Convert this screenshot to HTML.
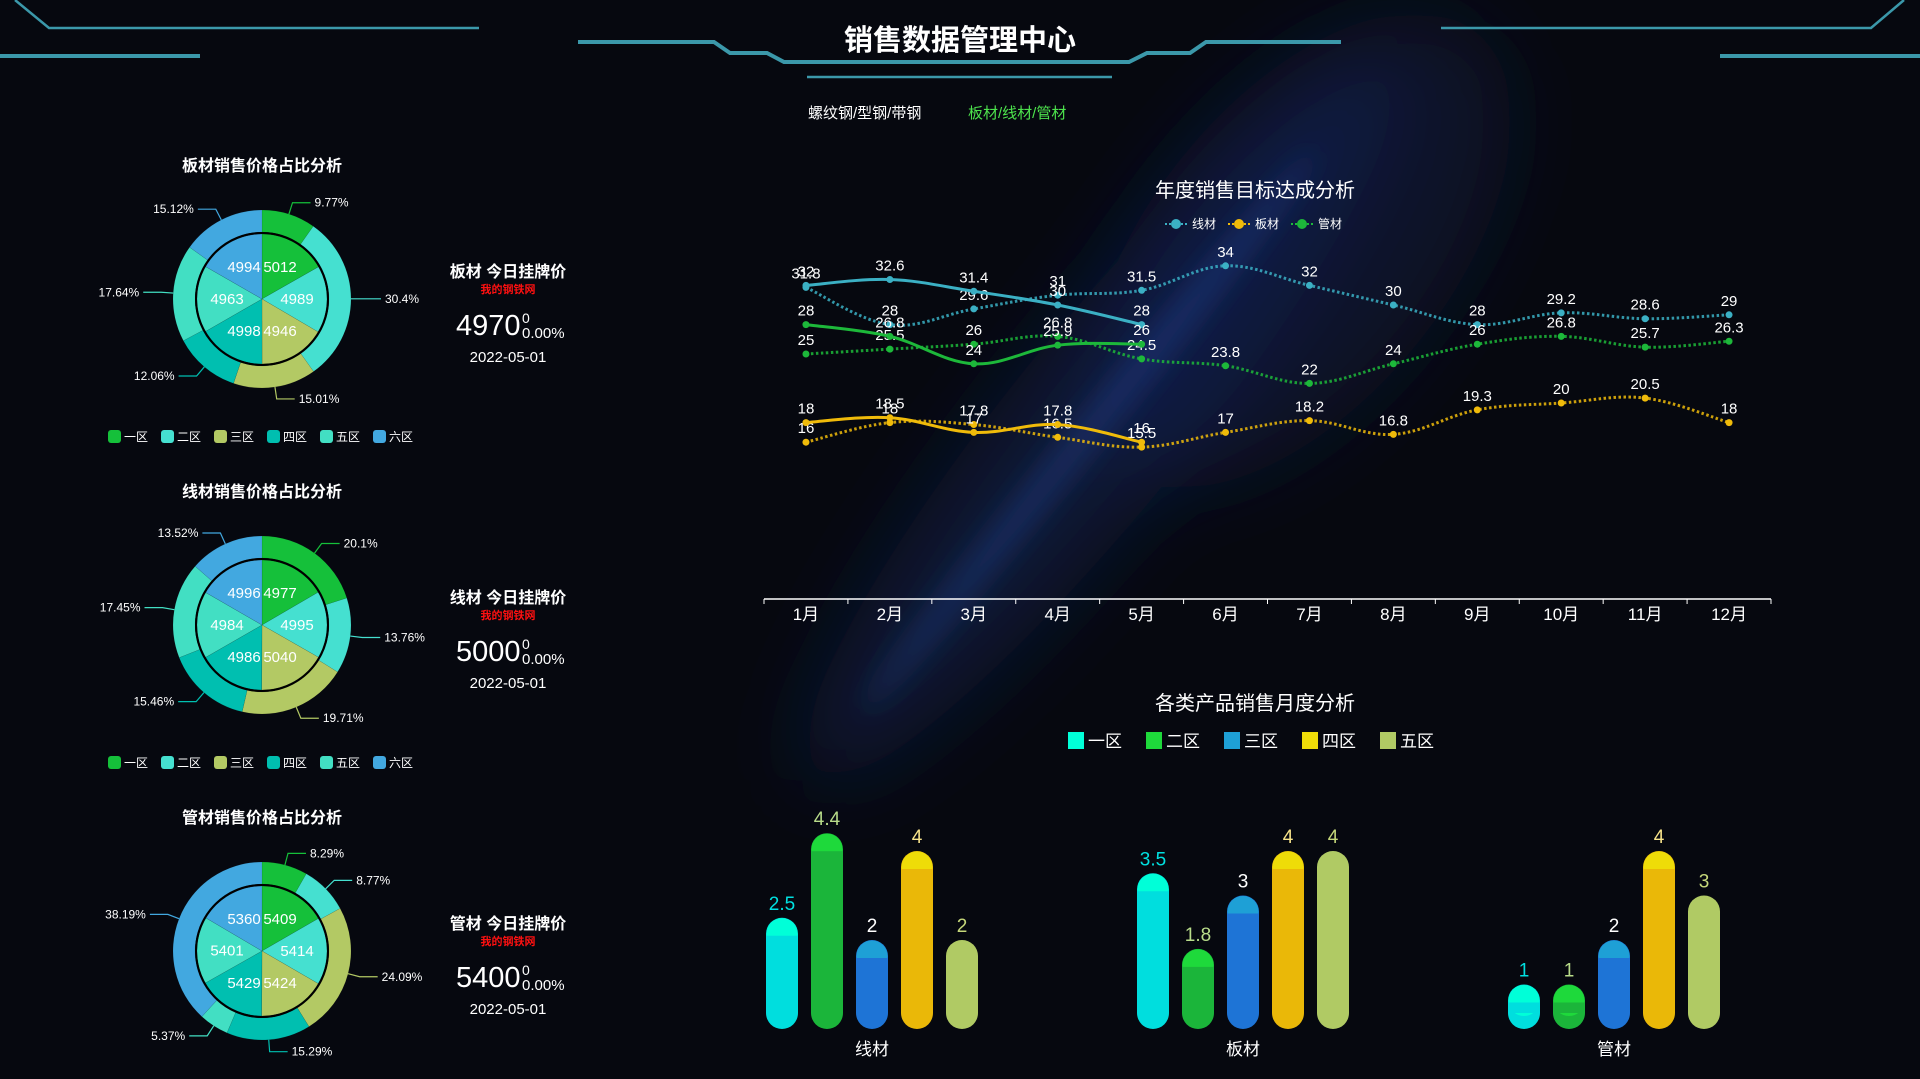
<!DOCTYPE html>
<html><head><meta charset="utf-8">
<style>
html,body{margin:0;padding:0;}
body{width:1920px;height:1079px;overflow:hidden;position:relative;font-family:"Liberation Sans","Noto Sans CJK SC",sans-serif;color:#fff;background:#06080f;}
svg{position:absolute;left:0;top:0;}
.t{position:absolute;white-space:nowrap;}
</style></head>
<body>
<svg width="1920" height="1079">
<defs>
<filter id="bl" x="-50%" y="-50%" width="200%" height="200%"><feGaussianBlur stdDeviation="40"/></filter>
<filter id="bl2" x="-50%" y="-50%" width="200%" height="200%"><feGaussianBlur stdDeviation="14"/></filter>
</defs>
<g filter="url(#bl)">
<ellipse cx="1100" cy="420" rx="90" ry="460" fill="rgba(30,50,120,0.35)" transform="rotate(39 1100 420)"/>
<ellipse cx="1300" cy="250" rx="150" ry="280" fill="rgba(25,40,100,0.3)" transform="rotate(39 1300 250)"/>
</g>
<g filter="url(#bl2)">
<ellipse cx="1090" cy="430" rx="16" ry="360" fill="rgba(45,80,170,0.35)" transform="rotate(39 1090 430)"/>
</g>
</svg>
<svg width="1920" height="1079">
<g stroke="#3b98aa" fill="none">
<polyline points="15,0 49,28 479,28" stroke-width="2.5"/>
<line x1="0" y1="56" x2="200" y2="56" stroke-width="4"/>
<polyline points="578,42 714,42 730,53 767,53 784,62 1129,62 1147,53 1190,53 1206,42 1341,42" stroke-width="4"/>
<line x1="807" y1="77" x2="1112" y2="77" stroke-width="2.5"/>
<polyline points="1441,28 1871,28 1904,0" stroke-width="2.5"/>
<line x1="1720" y1="56" x2="1920" y2="56" stroke-width="4"/>
</g>
</svg>
<div class="t" style="left:760px;top:17px;width:400px;text-align:center;font-size:29px;font-weight:bold;">销售数据管理中心</div>
<div class="t" style="left:808px;top:102px;font-size:15px;color:#fff;">螺纹钢/型钢/带钢</div>
<div class="t" style="left:968px;top:102px;font-size:15px;color:#4de34d;">板材/线材/管材</div>

<svg id="pies" width="1920" height="1079"></svg>
<svg id="line" width="1920" height="1079"></svg>
<svg id="bar" width="1920" height="1079"></svg>

<script>
const NS='http://www.w3.org/2000/svg';
function mk(p,tag,a){const e=document.createElementNS(NS,tag);for(const k in a)e.setAttribute(k,a[k]);p.appendChild(e);return e;}
function tx(p,x,y,s,a){const e=mk(p,'text',Object.assign({x:x,y:y,fill:'#fff','font-family':'"Liberation Sans","Noto Sans CJK SC",sans-serif'},a));e.textContent=s;return e;}

/* ---------- PIE DATA ---------- */
const zones=['一区','二区','三区','四区','五区','六区'];
const zoneColors=['#15c03a','#45e0d0','#b3c964','#00bfb0','#42dfc3','#42a8e0'];
const pieTitles=['板材销售价格占比分析','线材销售价格占比分析','管材销售价格占比分析'];
const products=['板材','线材','管材'];
const outer1=[9.77,30.4,15.01,12.06,17.64,15.12];
const outer2=[20.1,13.76,19.71,15.46,17.45,13.52];
const outer3=[8.29,8.77,24.09,15.29,5.37,38.19];
const inner1=[5012,4989,4946,4998,4963,4994];
const inner2=[4977,4995,5040,4986,4984,4996];
const inner3=[5409,5414,5424,5429,5401,5360];
const prices=['4970','5000','5400'];
const outers=[outer1,outer2,outer3], inners=[inner1,inner2,inner3];

const pies=document.getElementById('pies');
function arc(cx,cy,r0,r1,a0,a1){
 const p=(r,a)=>[cx+r*Math.sin(a),cy-r*Math.cos(a)];
 const lg=(a1-a0)>Math.PI?1:0;
 const [x1,y1]=p(r1,a0),[x2,y2]=p(r1,a1);
 if(r0<=0)return `M${cx},${cy}L${x1},${y1}A${r1},${r1} 0 ${lg} 1 ${x2},${y2}Z`;
 const [x3,y3]=p(r0,a1),[x4,y4]=p(r0,a0);
 return `M${x1},${y1}A${r1},${r1} 0 ${lg} 1 ${x2},${y2}L${x3},${y3}A${r0},${r0} 0 ${lg} 0 ${x4},${y4}Z`;
}
for(let k=0;k<3;k++){
 const cx=262, cy=299+k*326;
 const g=mk(pies,'g',{});
 
 
 tx(g,cx,cy-128,pieTitles[k],{'font-size':16,'font-weight':'bold','text-anchor':'middle'});
 const o=outers[k];const tot=o.reduce((a,b)=>a+b,0);
 let a=0;
 o.forEach((v,i)=>{
  const a1=a+v/tot*2*Math.PI;
  const s=mk(g,'path',{d:arc(cx,cy,67,89,a,a1),fill:zoneColors[i],stroke:'rgba(0,0,0,0.15)','stroke-width':0.5});
  
  
  const m=(a+a1)/2, sx=Math.sin(m), cy2=-Math.cos(m);
  const x0=cx+89*sx,y0=cy+89*cy2,x1=cx+101*sx,y1=cy+101*cy2;
  const right=sx>=0, x2=x1+(right?18:-18);
  mk(g,'polyline',{points:`${x0},${y0} ${x1},${y1} ${x2},${y1}`,fill:'none',stroke:zoneColors[i],'stroke-width':1.2});
  const lbl=tx(g,x2+(right?4:-4),y1+4,v+'%',{'font-size':12,'text-anchor':right?'start':'end'});
  
  a=a1;
 });
 const inn=inners[k];const it=inn.reduce((a,b)=>a+b,0);
 a=0;
 inn.forEach((v,i)=>{
  const a1=a+v/it*2*Math.PI;
  const s=mk(g,'path',{d:arc(cx,cy,0,65,a,a1),fill:zoneColors[i],stroke:'rgba(0,0,0,0.2)','stroke-width':0.5});
  
  
  const m=(a+a1)/2;
  const ly=cy-37*Math.cos(m);
  tx(g,cx+(Math.sin(m)>0?1:-1)*(Math.abs(Math.sin(m))>0.9?35:18),ly+5,String(v),{'font-size':15,'text-anchor':'middle'});
  a=a1;
 });
 mk(g,'circle',{cx:cx,cy:cy,r:66,fill:'none',stroke:'#000','stroke-width':2});
 if(k<2){
  const lg=mk(g,'g',{});
  
  
  zones.forEach((z,i)=>{
   const lx=108+i*53, ly=cy+137;
   const r=mk(lg,'rect',{x:lx,y:ly-6,width:13,height:13,rx:3,fill:zoneColors[i]});
   
   
   tx(lg,lx+16,ly+5,z,{'font-size':12});
  });
 }
 const px=508, py=cy;
 tx(g,px,py-22,products[k]+' 今日挂牌价',{'font-size':16,'font-weight':'bold','text-anchor':'middle'});
 tx(g,px,py-6,'我的钢铁网',{'font-size':11,'font-weight':'bold','text-anchor':'middle',fill:'#ff1010'});
 const pt=tx(g,456,py+36,prices[k],{'font-size':29});
 
 tx(g,522,py+24,'0',{'font-size':14});
 tx(g,522,py+39,'0.00%',{'font-size':15});
 tx(g,px,py+63,'2022-05-01',{'font-size':15,'text-anchor':'middle'});
}

/* ---------- LINE DATA ---------- */
const months=['1月','2月','3月','4月','5月','6月','7月','8月','9月','10月','11月','12月'];
const wireTarget=[31.8,28,29.6,31,31.5,34,32,30,28,29.2,28.6,29];
const wireActual=[32,32.6,31.4,30,28];
const plateTarget=[16,18,17.8,16.5,15.5,17,18.2,16.8,19.3,20,20.5,18];
const plateActual=[18,18.5,17,17.8,16];
const pipeTarget=[25,25.5,26,26.8,24.5,23.8,22,24,26,26.8,25.7,26.3];
const pipeActual=[28,26.8,24,25.9,26];
const lineY=v=>599-v*9.8;
const lineX=i=>764+(1771-764)/12*(i+0.5);
const line=document.getElementById('line');
tx(line,1255,197,'年度销售目标达成分析',{'font-size':20,'text-anchor':'middle'});
const series=[['线材','#3bb0c4',wireTarget,wireActual],['板材','#f0bb0a',plateTarget,plateActual],['管材','#1db83a',pipeTarget,pipeActual]];
series.forEach((s,i)=>{
 const lx=1165+i*63;
 const lg=mk(line,'g',{});
 
 
 mk(lg,'line',{x1:lx,y1:224,x2:lx+22,y2:224,stroke:s[1],'stroke-width':2,'stroke-dasharray':'2 2'});
 mk(lg,'circle',{cx:lx+11,cy:224,r:5,fill:s[1]});
 tx(lg,lx+27,228,s[0],{'font-size':12});
});
function smooth(pts){
 let d=`M${pts[0][0]},${pts[0][1]}`;
 for(let i=0;i<pts.length-1;i++){
  const p0=pts[i-1]||pts[i],p1=pts[i],p2=pts[i+1],p3=pts[i+2]||p2;
  const t=0.18;
  d+=`C${p1[0]+(p2[0]-p0[0])*t},${p1[1]+(p2[1]-p0[1])*t} ${p2[0]-(p3[0]-p1[0])*t},${p2[1]-(p3[1]-p1[1])*t} ${p2[0]},${p2[1]}`;
 }
 return d;
}
series.forEach(s=>{
 [[s[2],true],[s[3],false]].forEach(([vals,dot])=>{
  const pts=vals.map((v,i)=>[lineX(i),lineY(v)]);
  const p=mk(line,'path',{d:smooth(pts),fill:'none',stroke:s[1],'stroke-width':3,'stroke-dasharray':dot?'2.5 2.5':'none',opacity:dot?0.85:1});
  
  
  vals.forEach((v,i)=>{
   const c=mk(line,'circle',{cx:lineX(i),cy:lineY(v),r:3.5,fill:s[1]});
   
   
   tx(line,lineX(i),lineY(v)-9,String(v),{'font-size':15,'text-anchor':'middle'});
  });
 });
});
mk(line,'line',{x1:764,y1:599,x2:1771,y2:599,stroke:'#fff','stroke-width':1.5});
months.forEach((m,i)=>{
 const bx=764+(1771-764)/12*i;
 mk(line,'line',{x1:bx,y1:599,x2:bx,y2:604,stroke:'#fff','stroke-width':1});
 tx(line,lineX(i),620,m,{'font-size':17,'text-anchor':'middle'});
});
mk(line,'line',{x1:1771,y1:599,x2:1771,y2:604,stroke:'#fff','stroke-width':1});

/* ---------- BAR DATA ---------- */
const barCats=['线材','板材','管材'];
const barZones=['一区','二区','三区','四区','五区'];
const zone1=[2.5,3.5,1];
const zone2=[4.4,1.8,1];
const zone3=[2,3,2];
const zone4=[4,4,4];
const zone5=[2,4,3];
const barSeries=[zone1,zone2,zone3,zone4,zone5];
const barColors=['#00dede','#1bb53a','#1e74d6','#eab808','#b0ca64'];
const capColors=['#00ffd8','#1ed93b','#1ea0d6','#eedc08','#b0ca64'];
const lblColors=['#00e0e0','#b8dc8a','#ffffff','#f7e38a','#c6d87a'];
const legColors=['#00ffd8','#1ed93b','#1ea0d6','#eedc08','#b0ca64'];
const barY=v=>1029-v*44.5;
const barX=(c,s)=>872+c*371+(s-2)*45;
const bar=document.getElementById('bar');
tx(bar,1255,710,'各类产品销售月度分析',{'font-size':20,'text-anchor':'middle'});
barZones.forEach((z,i)=>{
 const lx=1068+i*78;
 const lg=mk(bar,'g',{});
 
 
 mk(lg,'rect',{x:lx,y:732,width:16,height:17,fill:legColors[i]});
 tx(lg,lx+20,747,z,{'font-size':17});
});
barSeries.forEach((vals,s)=>{
 vals.forEach((v,c)=>{
  const x=barX(c,s), w=32, top=barY(v);
  const r=mk(bar,'rect',{x:x-w/2,y:top,width:w,height:1029-top,rx:16,ry:16,fill:barColors[s]});
  
  
  mk(bar,'circle',{cx:x,cy:top+16,r:15.5,fill:capColors[s]});
  mk(bar,'rect',{x:x-w/2,y:top+18,width:w,height:Math.max(0,1029-top-34),fill:barColors[s]});
  tx(bar,x,top-8,String(v),{'font-size':19,'text-anchor':'middle',fill:lblColors[s]});
 });
});
barCats.forEach((c,i)=>{
 tx(bar,872+i*371,1055,c,{'font-size':17,'text-anchor':'middle'});
});
</script>
</body></html>
